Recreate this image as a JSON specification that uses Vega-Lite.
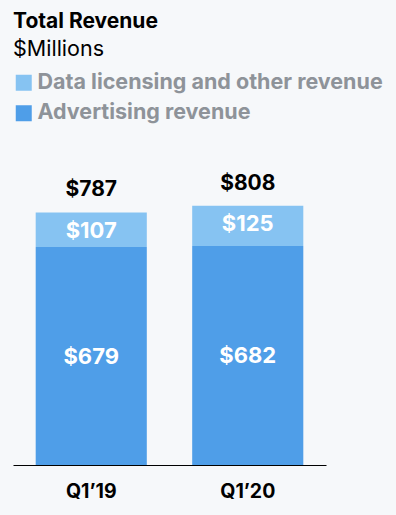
{
  "$schema": "https://vega.github.io/schema/vega-lite/v6.json",
  "width": 313,
  "height": 289,
  "autosize": "none",
  "padding": {"left": 13, "top": 176, "right": 70, "bottom": 50},
  "background": "#f6f8fa",
  "config": {"view": {"stroke": null}, "font": "Inter"},
  "title": {
    "text": "Total Revenue",
    "subtitle": "$Millions",
    "anchor": "start",
    "frame": "group",
    "font": "Inter",
    "fontSize": 21,
    "fontWeight": "bold",
    "color": "#000000",
    "subtitleFont": "Inter",
    "subtitleFontSize": 21.5,
    "subtitleColor": "#000000",
    "subtitlePadding": 7,
    "offset": 12
  },
  "datasets": {
    "seg": [
      {"quarter": "Q1’19", "type": "Advertising revenue", "ord": 1, "value": 679, "label": "$679"},
      {"quarter": "Q1’19", "type": "Data licensing and other revenue", "ord": 2, "value": 107, "label": "$107"},
      {"quarter": "Q1’20", "type": "Advertising revenue", "ord": 1, "value": 682, "label": "$682"},
      {"quarter": "Q1’20", "type": "Data licensing and other revenue", "ord": 2, "value": 125, "label": "$125"}
    ],
    "tot": [
      {"quarter": "Q1’19", "total": 787, "label": "$787"},
      {"quarter": "Q1’20", "total": 808, "label": "$808"}
    ]
  },
  "encoding": {
    "x": {
      "field": "quarter",
      "type": "nominal",
      "sort": null,
      "scale": {"paddingInner": 0.29, "paddingOuter": 0.145},
      "axis": {
        "title": null,
        "labelAngle": 0,
        "ticks": false,
        "domainColor": "#000000",
        "domainWidth": 1,
        "labelFont": "Inter",
        "labelFontSize": 19.5,
        "labelFontWeight": "bold",
        "labelColor": "#000000",
        "labelPadding": 17
      }
    }
  },
  "layer": [
    {
      "data": {"name": "seg"},
      "mark": {"type": "bar"},
      "encoding": {
        "y": {"field": "value", "type": "quantitative", "stack": "zero", "scale": {"domain": [0, 900]}, "axis": null},
        "order": {"field": "ord", "type": "quantitative"},
        "color": {
          "field": "type",
          "type": "nominal",
          "scale": {
            "domain": ["Data licensing and other revenue", "Advertising revenue"],
            "range": ["#86c3f2", "#4f9ee8"]
          },
          "legend": {
            "title": null,
            "orient": "top",
            "direction": "vertical",
            "offset": 52,
            "symbolType": "square",
            "symbolSize": 256,
            "symbolStrokeWidth": 0,
            "symbolOpacity": 1,
            "labelFont": "Inter",
            "labelFontSize": 21.5,
            "labelFontWeight": "bold",
            "labelColor": "#8e9399",
            "labelOffset": 3,
            "rowPadding": 7.5,
            "padding": 0,
            "labelLimit": 400
          }
        }
      }
    },
    {
      "data": {"name": "seg"},
      "transform": [
        {"stack": "value", "groupby": ["quarter"], "sort": [{"field": "ord"}], "as": ["v0", "v1"]},
        {"filter": "datum.ord == 2"}
      ],
      "mark": {"type": "text", "dy": 18, "baseline": "middle", "color": "white", "fontSize": 22, "fontWeight": "bold", "font": "Inter"},
      "encoding": {
        "y": {"field": "v1", "type": "quantitative"},
        "text": {"field": "label"}
      }
    },
    {
      "data": {"name": "seg"},
      "transform": [{"filter": "datum.ord == 1"}],
      "mark": {"type": "text", "dy": 110, "baseline": "middle", "color": "white", "fontSize": 22, "fontWeight": "bold", "font": "Inter"},
      "encoding": {
        "y": {"field": "value", "type": "quantitative"},
        "text": {"field": "label"}
      }
    },
    {
      "data": {"name": "tot"},
      "mark": {"type": "text", "dy": -22, "baseline": "middle", "color": "black", "fontSize": 21, "fontWeight": "bold", "font": "Inter"},
      "encoding": {
        "y": {"field": "total", "type": "quantitative"},
        "text": {"field": "label"}
      }
    }
  ]
}
